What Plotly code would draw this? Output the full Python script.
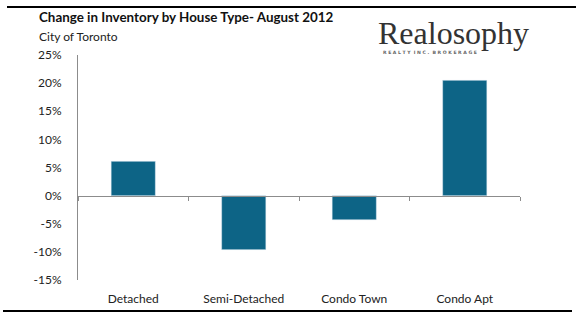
import plotly.graph_objects as go

categories = ["Detached", "Semi-Detached", "Condo Town", "Condo Apt"]
change_pct = [6.1, -9.6, -4.3, 20.5]
y_ticks = [-15, -10, -5, 0, 5, 10, 15, 20, 25]
y_tick_labels = [f"{v}%" for v in y_ticks]

title_text = "Change in Inventory by House Type- August 2012"
subtitle_text = "City of Toronto"

W, H = 576, 322
L, R, T, B = 78, 56, 55, 42
pw, ph = W - L - R, H - T - B

def px(x):
    return (x - L) / pw

def py(y):
    return (H - B - y) / ph

bar_color = "#0D6486"
axis_color = "#8C8C8C"
font_family = "Lato, Open Sans, sans-serif"

fig = go.Figure()
fig.add_trace(go.Bar(x=categories, y=change_pct, marker_color=bar_color,
                     width=0.4, hoverinfo="skip"))
# invisible trace to drive the zero-line axis with boundary ticks
fig.add_trace(go.Scatter(x=categories, y=[0]*len(categories), xaxis="x2",
                         mode="markers", marker=dict(opacity=0), hoverinfo="skip"))

fig.update_layout(
    width=W, height=H,
    margin=dict(l=L, r=R, t=T, b=B),
    paper_bgcolor="white", plot_bgcolor="white",
    showlegend=False,
    font=dict(family=font_family, color="#222222", size=12),
    xaxis=dict(type="category", showline=False, showgrid=False, zeroline=False,
               ticks="", tickfont=dict(size=12, color="#222"),
               ticklabelstandoff=10),
    xaxis2=dict(type="category", overlaying="x", anchor="free",
                position=15/40, matches="x", showticklabels=False,
                showline=True, linecolor=axis_color, linewidth=1,
                ticks="outside", tickson="boundaries", ticklen=4,
                tickcolor=axis_color, showgrid=False, zeroline=False,
                side="bottom"),
    yaxis=dict(range=[-15, 25], tickvals=y_ticks, ticktext=y_tick_labels,
               showgrid=False, zeroline=False, showline=True,
               linecolor=axis_color, linewidth=1, ticks="",
               tickfont=dict(size=12, color="#222"), ticklabelstandoff=13),
)

annotations = [
    dict(text=f"<b>{title_text}</b>", x=px(37), y=py(17), xanchor="left",
         yanchor="middle", font=dict(size=13.4, color="#111",
                                     family=font_family)),
    dict(text=subtitle_text, x=px(37), y=py(37), xanchor="left",
         yanchor="middle", font=dict(size=12, color="#222",
                                     family=font_family)),
    dict(text="Realosophy", x=px(376), y=py(33), xanchor="left",
         yanchor="middle", font=dict(size=32, color="#333333",
                                     family="Liberation Serif, serif")),
    dict(text="<b>R E A L T Y  I N C .  B R O K E R A G E</b>", x=px(381),
         y=py(52.5), xanchor="left", yanchor="middle",
         font=dict(size=4.6, color="#666666", family="DejaVu Sans, sans-serif")),
]
for a in annotations:
    a.update(xref="paper", yref="paper", showarrow=False)
fig.update_layout(annotations=annotations)

fig.add_shape(type="line", xref="paper", yref="paper",
              x0=px(7), x1=px(576), y0=py(7), y1=py(7),
              line=dict(color="black", width=2))
fig.add_shape(type="line", xref="paper", yref="paper",
              x0=px(3), x1=px(572), y0=py(311), y1=py(311),
              line=dict(color="black", width=2))

fig.write_html("out.html")
